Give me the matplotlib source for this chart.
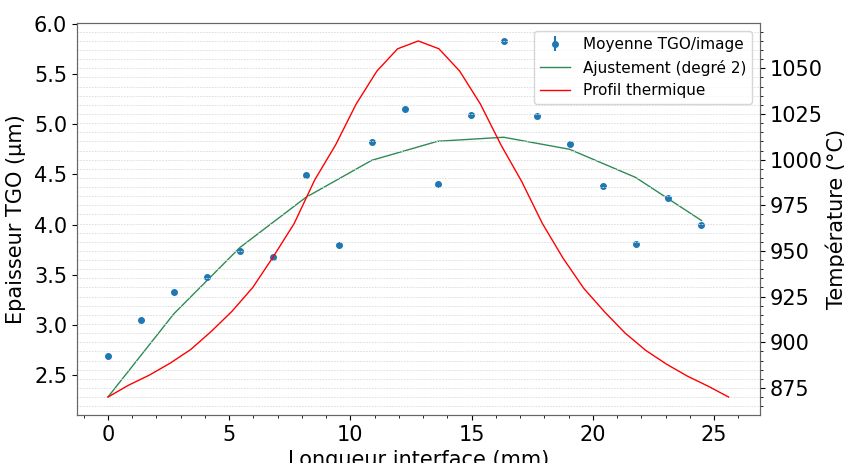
import numpy as np
import matplotlib
matplotlib.use("Agg")
import matplotlib.pyplot as plt
from matplotlib.ticker import AutoMinorLocator

plt.rcParams.update({'font.family': 'DejaVu Sans', 'font.size': 15})

# ---------- data ----------
# TGO thickness, mean per image
pos_mm = [0.0, 1.36, 2.72, 4.08, 5.44, 6.80, 8.16, 9.52, 10.88, 12.24,
          13.60, 14.96, 16.32, 17.68, 19.04, 20.40, 21.76, 23.12, 24.48]
tgo_um = [2.69, 3.05, 3.33, 3.48, 3.74, 3.68, 4.49, 3.80, 4.82, 5.15,
          4.40, 5.09, 5.83, 5.08, 4.80, 4.38, 3.81, 4.26, 4.00]
tgo_err = [0.0] * len(tgo_um)

# degree-2 fit, drawn at every second position
fit_x = [0.0, 2.72, 5.44, 8.16, 10.88, 13.60, 16.32, 19.04, 21.76, 24.48]
fit_y = [2.28, 3.11, 3.77, 4.27, 4.64, 4.83, 4.87, 4.75, 4.47, 4.04]

# thermal profile
temp_x = [0.0, 0.853, 1.707, 2.56, 3.413, 4.267, 5.12, 5.973, 6.827, 7.68,
          8.533, 9.387, 10.24, 11.093, 11.947, 12.8, 13.653, 14.507, 15.36,
          16.213, 17.067, 17.92, 18.773, 19.627, 20.48, 21.333, 22.187,
          23.04, 23.893, 24.747, 25.6]
temp_c = [870, 876.5, 882, 888.5, 896, 906, 917, 930, 947, 965,
          989, 1008, 1030.5, 1048.5, 1060.7, 1065, 1060.7, 1048.5, 1030.5,
          1008, 988, 965, 946, 929.5, 916.7, 905, 895.5, 888, 881.5,
          876, 870]

fig, ax1 = plt.subplots(figsize=(8.45, 4.63), dpi=100)
fig.subplots_adjust(left=0.091, right=0.899, top=0.950, bottom=0.104)

eb = ax1.errorbar(pos_mm, tgo_um, yerr=tgo_err, fmt='o', ms=4.0,
                  color='#1f77b4', label='Moyenne TGO/image')
l_fit, = ax1.plot(fit_x, fit_y, color='#2e8b57', lw=1.0,
                  label='Ajustement (degré 2)')
ax1.set_xlabel('Longueur interface (mm)')
ax1.set_ylabel('Epaisseur TGO (µm)', labelpad=6)
ax1.xaxis.set_minor_locator(AutoMinorLocator())

ax2 = ax1.twinx()
l_temp, = ax2.plot(temp_x, temp_c, color='red', lw=1.0, label='Profil thermique')
ax2.set_ylabel('Température (°C)', labelpad=2)
ax2.yaxis.set_minor_locator(AutoMinorLocator())
ax2.grid(which='both', axis='y', linestyle=(0, (2, 1.5)), color='#d9d9d9', lw=0.6)

for ax in (ax1, ax2):
    for spine in ax.spines.values():
        spine.set_color('0.4')

ax2.legend([eb, l_fit, l_temp],
           ['Moyenne TGO/image', 'Ajustement (degré 2)', 'Profil thermique'],
           loc='upper right', fontsize=11)

fig.savefig('out.png', dpi=100, facecolor='white')
